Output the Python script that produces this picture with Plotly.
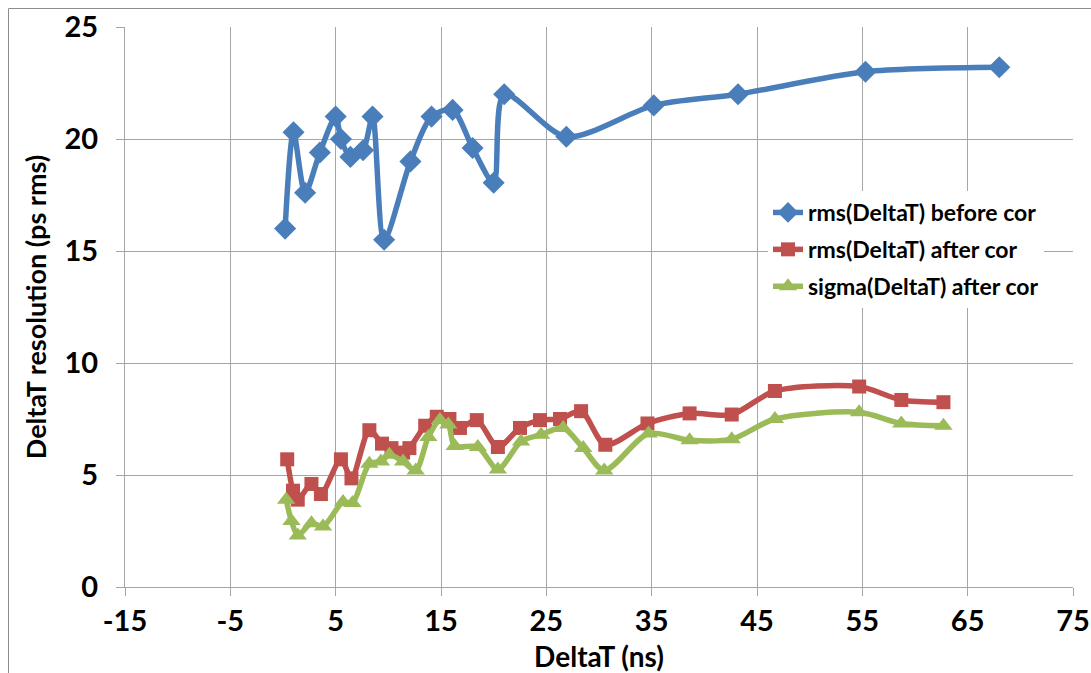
import plotly.graph_objects as go

# Data
blue_x = [0.2, 1.0, 2.1, 3.5, 5.0, 5.5, 6.4, 7.6, 8.5, 9.6, 12.1, 14.1, 16.1, 18.0, 20.0, 21.0, 26.9, 35.2, 43.2, 55.3, 68.0]
blue_y = [16.0, 20.3, 17.6, 19.4, 21.0, 20.0, 19.2, 19.5, 21.0, 15.5, 19.0, 21.0, 21.3, 19.6, 18.05, 22.0, 20.1, 21.5, 22.0, 23.0, 23.2]

red_x = [0.4, 0.95, 1.4, 2.7, 3.6, 5.5, 6.5, 8.2, 9.4, 10.3, 11.4, 12.0, 13.5, 14.6, 15.8, 16.8, 18.4, 20.4, 22.5, 24.4, 26.3, 28.3, 30.6, 34.6, 38.6, 42.6, 46.7, 54.7, 58.7, 62.7]
red_y = [5.7, 4.3, 3.9, 4.6, 4.15, 5.7, 4.85, 7.0, 6.4, 6.2, 6.0, 6.2, 7.2, 7.6, 7.5, 7.1, 7.45, 6.25, 7.1, 7.45, 7.5, 7.85, 6.35, 7.3, 7.75, 7.7, 8.75, 8.95, 8.35, 8.25]

green_x = [0.3, 0.8, 1.4, 2.7, 3.8, 5.7, 6.6, 8.2, 9.3, 10.1, 11.4, 12.6, 13.8, 14.9, 15.7, 16.3, 18.5, 20.4, 22.6, 24.5, 26.6, 28.5, 30.5, 34.7, 38.6, 42.6, 46.7, 54.7, 58.7, 62.7]
green_y = [3.9, 2.95, 2.3, 2.85, 2.7, 3.8, 3.75, 5.5, 5.6, 5.9, 5.6, 5.2, 6.7, 7.45, 7.25, 6.3, 6.25, 5.25, 6.5, 6.8, 7.1, 6.2, 5.2, 6.85, 6.55, 6.6, 7.5, 7.8, 7.3, 7.2]

names = ["rms(DeltaT) before cor", "rms(DeltaT) after cor", "sigma(DeltaT) after cor"]
x_ticks = [-15, -5, 5, 15, 25, 35, 45, 55, 65, 75]
y_ticks = [0, 5, 10, 15, 20, 25]

FONT = "Lato, 'Open Sans', sans-serif"
GRID = "#A6A6A6"

W, H = 1091, 673
L, R, T, B = 125, 1073, 27, 587

fig = go.Figure()
series = [
    (blue_x, blue_y, names[0], "#4A7EBB", "diamond", 17),
    (red_x, red_y, names[1], "#C0504D", "square", 14),
    (green_x, green_y, names[2], "#9BBB59", "triangle-up", 16),
]
for i, (xs, ys, nm, col, sym, sz) in enumerate(series):
    fig.add_trace(go.Scatter(
        x=xs, y=ys, name=nm, mode="lines+markers",
        line=dict(color=col, width=5.5, shape="spline", smoothing=0.8),
        marker=dict(symbol=sym, size=sz, color=col),
        legendgroup=f"g{i}",
    ))

fig.update_layout(
    width=W, height=H,
    margin=dict(l=L, r=W - R, t=T, b=H - B, autoexpand=False),
    paper_bgcolor="white", plot_bgcolor="white",
    font=dict(family=FONT, color="black"),
    showlegend=True,
    legend=dict(
        x=(768 - L) / (R - L), y=(B - 191) / (B - T), xanchor="left", yanchor="top",
        bgcolor="white", borderwidth=0,
        font=dict(family=FONT, size=23, color="black", weight="bold"),
        itemwidth=30, traceorder="grouped", tracegroupgap=4,
    ),
    xaxis=dict(
        range=[-15, 75], tickvals=x_ticks, ticktext=[str(v) for v in x_ticks],
        showgrid=True, gridcolor=GRID, gridwidth=1,
        showline=True, linecolor=GRID, linewidth=1,
        ticks="outside", ticklen=8, tickcolor=GRID,
        zeroline=False, automargin=False, ticklabelstandoff=0,
        tickfont=dict(family=FONT, size=29, weight="bold"),
        title=dict(text="DeltaT (ns)", font=dict(family=FONT, size=28, weight="bold"), standoff=12),
    ),
    yaxis=dict(
        range=[0, 25], tickvals=y_ticks,
        showgrid=True, gridcolor=GRID, gridwidth=1,
        showline=True, linecolor=GRID, linewidth=1,
        ticks="outside", ticklen=8, tickcolor=GRID,
        zeroline=False, automargin=False, ticklabelstandoff=12,
        tickfont=dict(family=FONT, size=29, weight="bold"),
        title=dict(text="DeltaT resolution (ps rms)", font=dict(family=FONT, size=27, weight="bold"), standoff=10),
    ),
    shapes=[dict(
        type="rect", xref="paper", yref="paper",
        x0=(8.5 - L) / (R - L), x1=(1200 - L) / (R - L),
        y0=(B - 800) / (B - T), y1=(B - 8.5) / (B - T),
        line=dict(color="#8C8C8C", width=1), fillcolor="rgba(0,0,0,0)", layer="below",
    )],
)

fig.write_html(
    "out.html",
    config={"displayModeBar": False},
    post_script="document.body.style.margin='0';document.body.style.overflow='hidden';",
)
